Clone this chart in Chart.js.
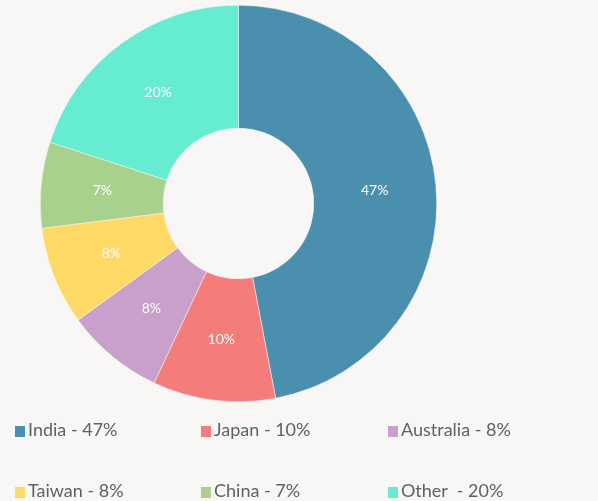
<!DOCTYPE html>
<html>
<head>
<meta charset="utf-8">
<script src="https://cdn.jsdelivr.net/npm/chart.js@4"></script>
<style>
    html, body {
        margin: 0;
        padding: 0;
        background: #f9f7f5;
    }
    #wrap {
        position: relative;
        width: 598px;
        height: 501px;
        overflow: hidden;
    }
    #chartBox {
        position: absolute;
        left: 0;
        top: 0;
        width: 598px;
        height: 501px;
    }
    .legend-item {
        position: absolute;
        font-family: 'Lato', 'Open Sans', sans-serif;
        font-size: 18px;
        color: #5a6464;
        white-space: pre;
        line-height: 20px;
    }
    .legend-item .box {
        display: inline-block;
        width: 10px;
        height: 11px;
        margin-right: 3px;
        vertical-align: -1px;
    }
</style>
</head>
<body>
<div id="wrap">
    <div id="chartBox"><canvas id="shareChart"></canvas></div>
    <div id="legend"></div>
</div>
<script>
const countries = ['India', 'Japan', 'Australia', 'Taiwan', 'China', 'Other'];
const shares = [47, 10, 8, 8, 7, 20];
const legendText = ['India - 47%', 'Japan - 10%', 'Australia - 8%', 'Taiwan - 8%', 'China - 7%', 'Other  - 20%'];
const sliceColors = ['#4a8fad', '#f47c7a', '#c9a0cb', '#ffd966', '#a9d18e', '#66ecd0'];

// white percentage labels at the middle of each slice
const sliceLabels = {
    id: 'sliceLabels',
    afterDatasetsDraw(chart) {
        const ctx = chart.ctx;
        const meta = chart.getDatasetMeta(0);
        ctx.save();
        ctx.fillStyle = '#ffffff';
        ctx.font = '14px Lato, "Open Sans", sans-serif';
        ctx.textAlign = 'center';
        ctx.textBaseline = 'middle';
        meta.data.forEach((arc, i) => {
            const pos = arc.tooltipPosition();
            ctx.fillText(shares[i] + '%', pos.x, pos.y);
        });
        ctx.restore();
    }
};

new Chart(document.getElementById('shareChart'), {
    type: 'doughnut',
    data: {
        labels: countries,
        datasets: [{
            data: shares,
            backgroundColor: sliceColors,
            borderColor: '#f9f7f5',
            borderWidth: 0.5
        }]
    },
    options: {
        responsive: true,
        maintainAspectRatio: false,
        animation: false,
        cutout: '38%',
        layout: {
            padding: { top: 5, bottom: 99, right: 121, left: 0 }
        },
        plugins: {
            legend: { display: false },
            tooltip: { enabled: false }
        }
    },
    plugins: [sliceLabels]
});

// legend grid, 3 columns x 2 rows
const legendBox = document.getElementById('legend');
const colX = [15, 201, 388];
const rowY = [419, 480];
legendText.forEach((text, i) => {
    const item = document.createElement('div');
    item.className = 'legend-item';
    item.style.left = colX[i % 3] + 'px';
    item.style.top = rowY[Math.floor(i / 3)] + 'px';
    item.innerHTML = `<span class="box" style="background:${sliceColors[i]}"></span>${text}`;
    legendBox.appendChild(item);
});
</script>
</body>
</html>
